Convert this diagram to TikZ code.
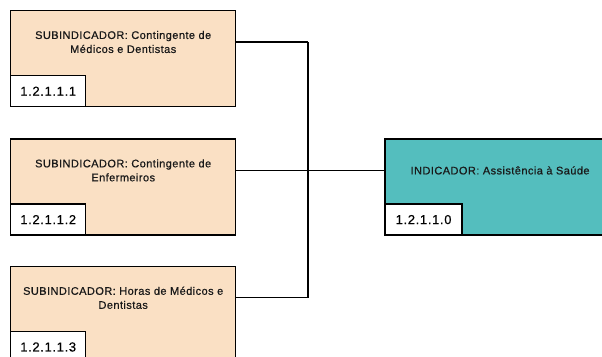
\documentclass[tikz,border=0pt]{standalone}
\usepackage{fontspec}
\setmainfont{Liberation Sans}
\newfontfamily\boxfont[LetterSpace=4,FakeBold=0.6]{Liberation Sans}
\newfontfamily\codefont[LetterSpace=5,FakeBold=0.4]{Liberation Sans}
\usepackage{tikz}
\usetikzlibrary{positioning}

\definecolor{peach}{RGB}{250,224,196}
\definecolor{teal}{RGB}{84,190,190}

\tikzset{
  box/.style={draw, line width=1.4pt, minimum height=96pt, inner sep=0pt},
  subbox/.style={box, fill=peach, minimum width=225pt},
  indbox/.style={box, fill=teal, minimum width=230pt},
  boxtext/.style={align=center, font=\boxfont\fontsize{11}{14}\selectfont, text=black!90},
  codebox/.style={draw, fill=white, line width=1.4pt, minimum width=75pt, minimum height=31pt,
    anchor=south west, inner sep=0pt, font=\codefont\fontsize{13}{15}\selectfont},
  link/.style={line width=1.2pt}
}

\begin{document}
\begin{tikzpicture}[x=1pt,y=-1pt]
    \useasboundingbox (0,0) rectangle (602,356);

    % Define nodes
    \node[subbox, anchor=north west]   (s1)   at (10,10)  {};
    \node[subbox, below=31pt of s1]    (s2)   {};
    \node[subbox, below=30pt of s2]    (s3)   {};
    \node[indbox, right=148pt of s2]   (ind)  {};

    \node[boxtext] (t1) at ([yshift=-32pt]s1.north) {SUBINDICADOR: Contingente de\\Médicos e Dentistas};
    \node[boxtext] (t2) at ([yshift=-32pt]s2.north) {SUBINDICADOR: Contingente de\\Enfermeiros};
    \node[boxtext] (t3) at ([yshift=-32pt]s3.north) {SUBINDICADOR: Horas de Médicos e\\Dentistas};
    \node[boxtext] (ti) at ([yshift=-32pt]ind.north) {INDICADOR: Assistência à Saúde};

    \node[codebox] (c1) at (s1.south west) {1.2.1.1.1};
    \node[codebox] (c2) at (s2.south west) {1.2.1.1.2};
    \node[codebox] (c3) at (s3.south west) {1.2.1.1.3};
    \node[codebox, minimum width=77pt] (ci) at (ind.south west) {1.2.1.1.0};

    % Connect nodes
    \coordinate (j) at (308,0);
    \draw[link] (t1 -| s1.east) -- (t1 -| j);
    \draw[link] (t2 -| s2.east) -- (t2 -| j);
    \draw[link] (t3 -| s3.east) -- (t3 -| j);
    \draw[link] (t1 -| j) -- (t3 -| j);
    \draw[link] (ti -| j) -- (ti -| ind.west);
\end{tikzpicture}
\end{document}
